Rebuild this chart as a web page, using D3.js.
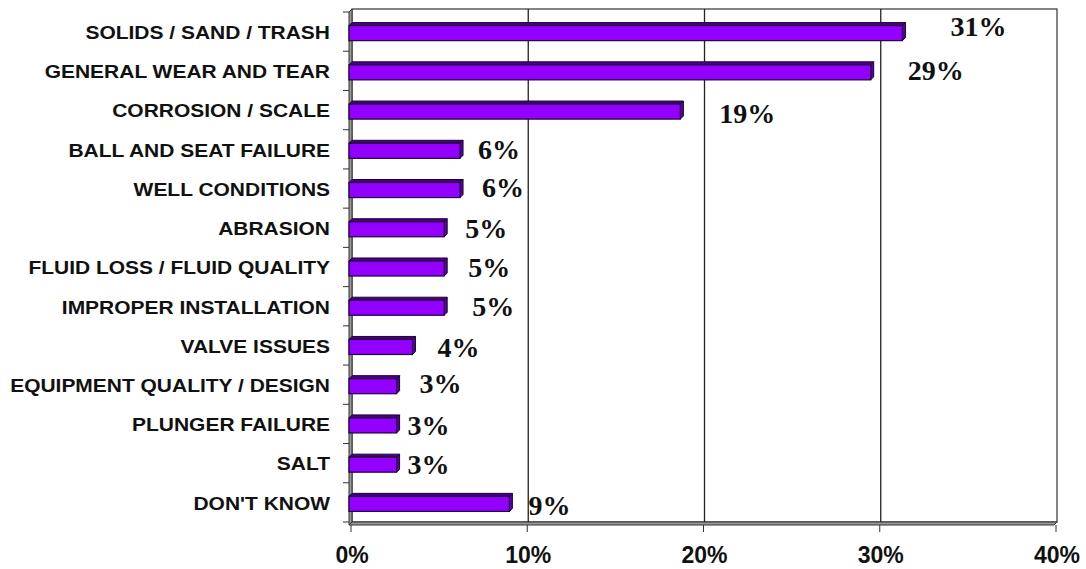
<!DOCTYPE html>
<html><head><meta charset="utf-8">
<script src="https://cdn.jsdelivr.net/npm/d3@7/dist/d3.min.js"></script>
<style>html,body{margin:0;padding:0;background:#fff;}</style>
</head><body>
<svg id="chart" width="1086" height="569"></svg>
<script>
const categories = ["SOLIDS / SAND / TRASH","GENERAL WEAR AND TEAR","CORROSION / SCALE","BALL AND SEAT FAILURE","WELL CONDITIONS","ABRASION","FLUID LOSS / FLUID QUALITY","IMPROPER INSTALLATION","VALVE ISSUES","EQUIPMENT QUALITY / DESIGN","PLUNGER FAILURE","SALT","DON'T KNOW"];
const values = [0.314, 0.296, 0.188, 0.063, 0.063, 0.054, 0.054, 0.054, 0.036, 0.027, 0.027, 0.027, 0.091];
const labels = ["31%","29%","19%","6%","6%","5%","5%","5%","4%","3%","3%","3%","9%"];
const labelDx = [45, 34, 36, 15, 19, 18, 21, 25, 22, 20, 8, 8, 16];
const labelDy = [-5, -1, 3, 0, -1, 0, 0, 0, 2, -1, 1, 1, 3];
const xTicks = [0, 0.1, 0.2, 0.3, 0.4];

(function () {
const svg = d3.select("#chart");
const pL = 352, pR = 1057, pT = 12, pB = 522;
const x = d3.scaleLinear().domain([0, 0.4]).range([pL, pR]);
const y = d3.scaleBand().domain(categories).range([pT, pB]).paddingInner(0.54).paddingOuter(0.27);
const depth = 3;

// back wall
svg.append("rect").attr("x", pL).attr("y", pT - 3).attr("width", pR - pL).attr("height", pB - pT + 3)
  .attr("fill", "#fff").attr("stroke", "#333").attr("stroke-width", 1.2);
// left wall
svg.append("path").attr("d", `M${pL-depth},${pT} L${pL},${pT-3} L${pL},${pB} L${pL-depth},${pB+3} Z`)
  .attr("fill", "#999").attr("stroke", "#333").attr("stroke-width", 1);
// floor
svg.append("path").attr("d", `M${pL-depth},${pB+3} L${pL},${pB} L${pR},${pB} L${pR-depth},${pB+3} Z`)
  .attr("fill", "#999").attr("stroke", "#333").attr("stroke-width", 1);

// gridlines
svg.append("g").selectAll("line").data(xTicks.slice(1, -1)).join("line")
  .attr("x1", d => x(d)).attr("x2", d => x(d)).attr("y1", pT - 3).attr("y2", pB)
  .attr("stroke", "#222").attr("stroke-width", 1.3);

// bars
const g = svg.append("g");
categories.forEach((c, i) => {
  const x0 = x(0) - depth, x1 = x(values[i]) - depth, y0 = y(c) + depth, h = y.bandwidth() - depth;
  g.append("path").attr("d", `M${x0},${y0} L${x0+depth},${y0-depth} L${x1+depth},${y0-depth} L${x1},${y0} Z`)
    .attr("fill", "#4a0080").attr("stroke", "#1e0038").attr("stroke-width", 1);
  g.append("path").attr("d", `M${x1},${y0} L${x1+depth},${y0-depth} L${x1+depth},${y0+h-depth} L${x1},${y0+h} Z`)
    .attr("fill", "#5a00a0").attr("stroke", "#1e0038").attr("stroke-width", 1);
  g.append("rect").attr("x", x0).attr("y", y0).attr("width", x1 - x0).attr("height", h)
    .attr("fill", "#9400ff").attr("stroke", "#1e0038").attr("stroke-width", 1.2);
});

// value labels
svg.append("g").selectAll("text").data(categories).join("text")
  .attr("x", (c, i) => x(values[i]) + labelDx[i])
  .attr("y", (c, i) => y(c) + y.bandwidth() / 2 + labelDy[i])
  .attr("dy", "0.35em")
  .attr("font-family", "'Liberation Serif','Times New Roman',serif").attr("font-weight", "bold")
  .attr("font-size", 28).attr("fill", "#111")
  .text((c, i) => labels[i]);

// y axis ticks
svg.append("g").selectAll("line").data(d3.range(categories.length + 1)).join("line")
  .attr("x1", pL - 9).attr("x2", pL - 3)
  .attr("y1", i => pT + i * (pB - pT) / categories.length)
  .attr("y2", i => pT + i * (pB - pT) / categories.length)
  .attr("stroke", "#333").attr("stroke-width", 1);

// category labels (horizontally stretched like the original)
const catG = svg.append("g").attr("transform", "translate(330,0) scale(1.165,1)");
catG.selectAll("text").data(categories).join("text")
  .attr("x", 0).attr("y", c => y(c) + y.bandwidth() / 2 + 1).attr("dy", "0.35em")
  .attr("text-anchor", "end")
  .attr("font-family", "'Liberation Sans',Arial,sans-serif").attr("font-weight", "bold")
  .attr("font-size", 18).attr("fill", "#111")
  .text(c => c);

// x axis ticks and labels
svg.append("g").selectAll("line").data(xTicks).join("line")
  .attr("x1", d => x(d) - 1).attr("x2", d => x(d) - 1).attr("y1", pB + 3).attr("y2", pB + 10)
  .attr("stroke", "#333").attr("stroke-width", 1);
svg.append("g").selectAll("text").data(xTicks).join("text")
  .attr("x", d => x(d)).attr("y", 555).attr("dy", "0.35em").attr("text-anchor", "middle")
  .attr("font-family", "'Liberation Sans',Arial,sans-serif").attr("font-weight", "bold")
  .attr("font-size", 23).attr("fill", "#111")
  .text(d => d3.format(".0%")(d));
})();
</script>
</body></html>
